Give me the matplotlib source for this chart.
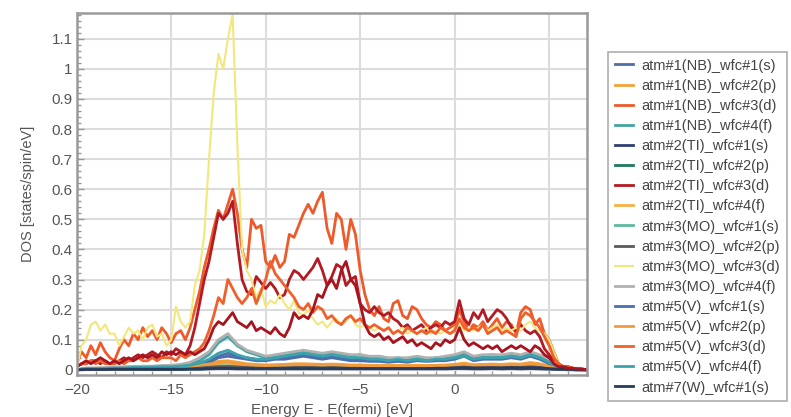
import numpy as np
import matplotlib
matplotlib.use('Agg')
import matplotlib.pyplot as plt
from matplotlib.ticker import MultipleLocator

plt.rcParams['font.family'] = ['Liberation Sans', 'DejaVu Sans']

# energy grids (eV)
energy = np.arange(-20, 7.001, 0.25)
energy_c = np.arange(-20, 7.001, 0.5)

# main d-orbital curves (0.25 eV grid)
mo_d = [0.00, 0.08, 0.10, 0.15, 0.16, 0.13, 0.15, 0.12, 0.12, 0.08, 0.11, 0.14,
        0.12, 0.13, 0.10, 0.14, 0.15, 0.11, 0.12, 0.08, 0.10, 0.21, 0.16, 0.14,
        0.16, 0.28, 0.33, 0.45, 0.70, 0.92, 1.05, 1.00, 1.10, 1.18, 0.75, 0.40,
        0.33, 0.30, 0.24, 0.27, 0.21, 0.23, 0.22, 0.25, 0.22, 0.20, 0.23, 0.19,
        0.18, 0.20, 0.17, 0.15, 0.16, 0.14, 0.16, 0.17, 0.15, 0.16, 0.18, 0.15,
        0.14, 0.15, 0.14, 0.13, 0.14, 0.13, 0.14, 0.12, 0.13, 0.14, 0.12, 0.13,
        0.12, 0.13, 0.14, 0.12, 0.13, 0.12, 0.13, 0.12, 0.14, 0.15, 0.13, 0.14,
        0.13, 0.14, 0.15, 0.13, 0.14, 0.15, 0.13, 0.14, 0.13, 0.14, 0.13, 0.15,
        0.16, 0.14, 0.13, 0.12, 0.10, 0.06, 0.02, 0.01, 0.005, 0.005, 0.003, 0.002, 0.0]

nb_d = [0.02, 0.06, 0.04, 0.08, 0.05, 0.09, 0.06, 0.04, 0.03, 0.07, 0.10, 0.08,
        0.12, 0.10, 0.14, 0.11, 0.13, 0.10, 0.14, 0.12, 0.09, 0.12, 0.13, 0.10,
        0.14, 0.20, 0.26, 0.34, 0.40, 0.47, 0.53, 0.50, 0.55, 0.60, 0.52, 0.40,
        0.34, 0.50, 0.47, 0.48, 0.36, 0.34, 0.38, 0.34, 0.36, 0.45, 0.44, 0.48,
        0.52, 0.55, 0.52, 0.56, 0.59, 0.47, 0.42, 0.52, 0.50, 0.40, 0.50, 0.45,
        0.33, 0.25, 0.20, 0.18, 0.21, 0.17, 0.16, 0.22, 0.23, 0.18, 0.17, 0.21,
        0.20, 0.17, 0.15, 0.14, 0.16, 0.15, 0.13, 0.14, 0.15, 0.20, 0.16, 0.13,
        0.15, 0.14, 0.16, 0.13, 0.15, 0.17, 0.14, 0.16, 0.15, 0.12, 0.19, 0.21,
        0.20, 0.15, 0.17, 0.12, 0.10, 0.06, 0.02, 0.01, 0.01, 0.005, 0.005, 0.003, 0.0]

ti_d = [0.01, 0.02, 0.02, 0.03, 0.03, 0.02, 0.03, 0.02, 0.02, 0.03, 0.04, 0.03,
        0.04, 0.05, 0.04, 0.05, 0.06, 0.05, 0.04, 0.06, 0.05, 0.07, 0.06, 0.05,
        0.08, 0.14, 0.22, 0.30, 0.36, 0.44, 0.52, 0.50, 0.52, 0.56, 0.42, 0.30,
        0.26, 0.25, 0.31, 0.29, 0.27, 0.29, 0.27, 0.24, 0.25, 0.30, 0.33, 0.32,
        0.30, 0.32, 0.34, 0.37, 0.33, 0.28, 0.31, 0.35, 0.34, 0.28, 0.30, 0.31,
        0.22, 0.20, 0.19, 0.21, 0.19, 0.18, 0.19, 0.17, 0.16, 0.14, 0.15, 0.13,
        0.14, 0.15, 0.13, 0.14, 0.15, 0.14, 0.16, 0.15, 0.16, 0.23, 0.17, 0.15,
        0.19, 0.17, 0.20, 0.16, 0.18, 0.20, 0.19, 0.17, 0.14, 0.13, 0.15, 0.13,
        0.12, 0.13, 0.11, 0.07, 0.05, 0.03, 0.02, 0.01, 0.01, 0.005, 0.004, 0.002, 0.0]

w_d = [0.01, 0.02, 0.03, 0.02, 0.03, 0.04, 0.03, 0.02, 0.03, 0.02, 0.03, 0.04,
       0.03, 0.04, 0.05, 0.04, 0.05, 0.04, 0.06, 0.05, 0.06, 0.05, 0.06, 0.05,
       0.06, 0.05, 0.06, 0.07, 0.10, 0.14, 0.16, 0.15, 0.17, 0.19, 0.16, 0.15,
       0.14, 0.16, 0.13, 0.14, 0.13, 0.12, 0.14, 0.12, 0.11, 0.14, 0.19, 0.17,
       0.18, 0.17, 0.20, 0.25, 0.24, 0.28, 0.30, 0.27, 0.33, 0.36, 0.30, 0.28,
       0.22, 0.15, 0.12, 0.11, 0.12, 0.10, 0.11, 0.09, 0.10, 0.11, 0.09, 0.10,
       0.08, 0.09, 0.08, 0.07, 0.09, 0.08, 0.10, 0.09, 0.10, 0.14, 0.10, 0.08,
       0.09, 0.08, 0.07, 0.08, 0.07, 0.08, 0.06, 0.07, 0.08, 0.07, 0.08, 0.07,
       0.06, 0.08, 0.07, 0.05, 0.04, 0.02, 0.01, 0.01, 0.005, 0.005, 0.003, 0.002, 0.0]

v_d = [0.01, 0.02, 0.02, 0.03, 0.02, 0.03, 0.02, 0.02, 0.02, 0.03, 0.02, 0.03,
       0.03, 0.04, 0.03, 0.03, 0.04, 0.03, 0.04, 0.04, 0.04, 0.03, 0.05, 0.04,
       0.05, 0.06, 0.07, 0.09, 0.13, 0.18, 0.24, 0.22, 0.30, 0.27, 0.24, 0.22,
       0.24, 0.27, 0.22, 0.26, 0.30, 0.36, 0.32, 0.30, 0.28, 0.26, 0.24, 0.21,
       0.20, 0.22, 0.19, 0.21, 0.20, 0.17, 0.18, 0.16, 0.15, 0.17, 0.18, 0.16,
       0.17, 0.15, 0.14, 0.15, 0.14, 0.13, 0.14, 0.12, 0.13, 0.12, 0.14, 0.13,
       0.12, 0.13, 0.12, 0.13, 0.12, 0.14, 0.13, 0.12, 0.13, 0.17, 0.14, 0.13,
       0.14, 0.13, 0.15, 0.12, 0.13, 0.14, 0.12, 0.13, 0.12, 0.11, 0.17, 0.19,
       0.18, 0.16, 0.14, 0.11, 0.08, 0.04, 0.02, 0.01, 0.01, 0.005, 0.004, 0.002, 0.0]

# small curves (0.5 eV grid)
nb_f = [0.0, 0.005, 0.005, 0.005, 0.008, 0.008, 0.01, 0.01, 0.01, 0.012, 0.012,
        0.015, 0.02, 0.03, 0.05, 0.09, 0.11, 0.08, 0.06, 0.05, 0.04, 0.045, 0.05,
        0.055, 0.06, 0.055, 0.05, 0.055, 0.05, 0.045, 0.05, 0.04, 0.045, 0.035,
        0.04, 0.035, 0.04, 0.035, 0.04, 0.04, 0.045, 0.055, 0.04, 0.045, 0.05,
        0.045, 0.05, 0.045, 0.055, 0.045, 0.03, 0.01, 0.003, 0.002, 0.0]
mo_f = [0.0, 0.006, 0.006, 0.007, 0.009, 0.01, 0.011, 0.012, 0.012, 0.014, 0.015,
        0.018, 0.025, 0.04, 0.06, 0.10, 0.12, 0.085, 0.065, 0.055, 0.045, 0.05, 0.055,
        0.06, 0.065, 0.06, 0.055, 0.06, 0.055, 0.05, 0.05, 0.045, 0.045, 0.04,
        0.04, 0.04, 0.045, 0.04, 0.04, 0.045, 0.05, 0.06, 0.045, 0.05, 0.05,
        0.05, 0.055, 0.05, 0.06, 0.05, 0.035, 0.012, 0.004, 0.002, 0.0]
v_f = [0.0, 0.004, 0.004, 0.005, 0.006, 0.006, 0.008, 0.008, 0.009, 0.01, 0.01,
       0.012, 0.015, 0.022, 0.035, 0.055, 0.065, 0.05, 0.04, 0.035, 0.035, 0.04, 0.045,
       0.05, 0.055, 0.05, 0.045, 0.05, 0.045, 0.04, 0.04, 0.035, 0.035, 0.03,
       0.035, 0.03, 0.035, 0.03, 0.035, 0.035, 0.04, 0.045, 0.035, 0.04, 0.04,
       0.04, 0.045, 0.04, 0.05, 0.04, 0.025, 0.008, 0.003, 0.001, 0.0]
nb_s = [0.0, 0.003, 0.003, 0.004, 0.005, 0.005, 0.006, 0.006, 0.007, 0.008, 0.008,
        0.01, 0.012, 0.018, 0.03, 0.045, 0.055, 0.045, 0.04, 0.035, 0.035, 0.04, 0.04,
        0.045, 0.05, 0.045, 0.04, 0.045, 0.04, 0.035, 0.035, 0.03, 0.03, 0.03,
        0.03, 0.03, 0.035, 0.03, 0.03, 0.035, 0.04, 0.05, 0.035, 0.04, 0.04,
        0.04, 0.045, 0.04, 0.05, 0.04, 0.025, 0.008, 0.003, 0.001, 0.0]
v_s = [0.0, 0.003, 0.003, 0.003, 0.004, 0.004, 0.005, 0.005, 0.006, 0.006, 0.007,
       0.008, 0.01, 0.015, 0.025, 0.04, 0.045, 0.04, 0.035, 0.03, 0.03, 0.035, 0.035,
       0.04, 0.045, 0.04, 0.035, 0.04, 0.035, 0.03, 0.03, 0.028, 0.028, 0.025,
       0.028, 0.025, 0.03, 0.028, 0.03, 0.03, 0.035, 0.045, 0.03, 0.035, 0.035,
       0.035, 0.04, 0.035, 0.045, 0.035, 0.02, 0.006, 0.002, 0.001, 0.0]
nb_p = [0.0, 0.004, 0.005, 0.005, 0.006, 0.006, 0.007, 0.008, 0.008, 0.009, 0.01,
        0.012, 0.014, 0.018, 0.022, 0.028, 0.03, 0.025, 0.02, 0.018, 0.016, 0.017, 0.018,
        0.02, 0.02, 0.019, 0.018, 0.019, 0.018, 0.016, 0.016, 0.015, 0.015, 0.014,
        0.015, 0.014, 0.015, 0.014, 0.015, 0.016, 0.018, 0.022, 0.017, 0.018, 0.019,
        0.018, 0.02, 0.019, 0.024, 0.02, 0.012, 0.005, 0.002, 0.001, 0.0]
ti_f = [0.0, 0.002, 0.002, 0.003, 0.003, 0.003, 0.004, 0.004, 0.005, 0.005, 0.006,
        0.007, 0.009, 0.012, 0.016, 0.02, 0.022, 0.018, 0.015, 0.013, 0.012, 0.013, 0.014,
        0.015, 0.016, 0.015, 0.014, 0.015, 0.014, 0.013, 0.012, 0.012, 0.011, 0.011,
        0.012, 0.011, 0.012, 0.012, 0.013, 0.013, 0.015, 0.018, 0.014, 0.015, 0.016,
        0.015, 0.017, 0.016, 0.02, 0.016, 0.01, 0.004, 0.002, 0.001, 0.0]
v_p = [0.0, 0.003, 0.003, 0.004, 0.004, 0.005, 0.005, 0.006, 0.006, 0.007, 0.008,
       0.009, 0.011, 0.015, 0.019, 0.024, 0.026, 0.021, 0.017, 0.015, 0.014, 0.015, 0.016,
       0.017, 0.018, 0.017, 0.016, 0.017, 0.016, 0.014, 0.014, 0.013, 0.013, 0.012,
       0.013, 0.012, 0.013, 0.013, 0.014, 0.014, 0.016, 0.02, 0.015, 0.016, 0.017,
       0.016, 0.018, 0.017, 0.022, 0.018, 0.011, 0.004, 0.002, 0.001, 0.0]
ti_p = [0.0, 0.001, 0.001, 0.001, 0.001, 0.001, 0.002, 0.002, 0.002, 0.002, 0.002,
        0.002, 0.003, 0.003, 0.004, 0.005, 0.005, 0.004, 0.004, 0.004, 0.004, 0.004, 0.004,
        0.004, 0.005, 0.005, 0.005, 0.005, 0.005, 0.005, 0.005, 0.005, 0.006, 0.006,
        0.007, 0.008, 0.009, 0.009, 0.01, 0.01, 0.011, 0.012, 0.011, 0.011, 0.012,
        0.011, 0.012, 0.011, 0.012, 0.01, 0.006, 0.002, 0.001, 0.0, 0.0]
mo_s = [0.0, 0.002, 0.002, 0.002, 0.003, 0.003, 0.003, 0.003, 0.004, 0.004, 0.004,
        0.005, 0.006, 0.008, 0.01, 0.012, 0.013, 0.011, 0.009, 0.008, 0.008, 0.008, 0.009,
        0.009, 0.01, 0.009, 0.009, 0.009, 0.009, 0.008, 0.008, 0.008, 0.008, 0.007,
        0.008, 0.007, 0.008, 0.008, 0.008, 0.008, 0.009, 0.011, 0.009, 0.009, 0.01,
        0.009, 0.01, 0.009, 0.011, 0.009, 0.006, 0.002, 0.001, 0.0, 0.0]
mo_p = [0.0, 0.001, 0.001, 0.002, 0.002, 0.002, 0.002, 0.003, 0.003, 0.003, 0.003,
        0.004, 0.005, 0.006, 0.008, 0.01, 0.011, 0.009, 0.008, 0.007, 0.006, 0.007, 0.007,
        0.008, 0.008, 0.008, 0.007, 0.008, 0.007, 0.007, 0.007, 0.006, 0.006, 0.006,
        0.006, 0.006, 0.007, 0.006, 0.007, 0.007, 0.008, 0.009, 0.007, 0.008, 0.008,
        0.008, 0.008, 0.008, 0.009, 0.008, 0.005, 0.002, 0.001, 0.0, 0.0]
ti_s = [0.0, 0.001, 0.001, 0.001, 0.001, 0.001, 0.001, 0.001, 0.001, 0.001, 0.001,
        0.001, 0.002, 0.002, 0.003, 0.004, 0.004, 0.003, 0.003, 0.003, 0.003, 0.003, 0.003,
        0.003, 0.003, 0.003, 0.003, 0.003, 0.003, 0.003, 0.003, 0.003, 0.003, 0.003,
        0.003, 0.003, 0.003, 0.003, 0.003, 0.003, 0.004, 0.004, 0.003, 0.003, 0.004,
        0.003, 0.004, 0.003, 0.004, 0.003, 0.002, 0.001, 0.0, 0.0, 0.0]
w_s = [0.0, 0.001, 0.001, 0.001, 0.002, 0.002, 0.002, 0.002, 0.002, 0.002, 0.002,
       0.002, 0.003, 0.003, 0.004, 0.005, 0.005, 0.004, 0.004, 0.004, 0.004, 0.004, 0.004,
       0.004, 0.004, 0.004, 0.004, 0.004, 0.004, 0.004, 0.004, 0.004, 0.004, 0.004,
       0.004, 0.004, 0.004, 0.004, 0.005, 0.005, 0.006, 0.007, 0.006, 0.006, 0.006,
       0.006, 0.007, 0.006, 0.007, 0.006, 0.004, 0.002, 0.001, 0.0, 0.0]

# legend order
labels = ['atm#1(NB)_wfc#1(s)', 'atm#1(NB)_wfc#2(p)', 'atm#1(NB)_wfc#3(d)', 'atm#1(NB)_wfc#4(f)',
          'atm#2(TI)_wfc#1(s)', 'atm#2(TI)_wfc#2(p)', 'atm#2(TI)_wfc#3(d)', 'atm#2(TI)_wfc#4(f)',
          'atm#3(MO)_wfc#1(s)', 'atm#3(MO)_wfc#2(p)', 'atm#3(MO)_wfc#3(d)', 'atm#3(MO)_wfc#4(f)',
          'atm#5(V)_wfc#1(s)', 'atm#5(V)_wfc#2(p)', 'atm#5(V)_wfc#3(d)', 'atm#5(V)_wfc#4(f)',
          'atm#7(W)_wfc#1(s)']
series = [nb_s, nb_p, nb_d, nb_f, ti_s, ti_p, ti_d, ti_f,
          mo_s, mo_p, mo_d, mo_f, v_s, v_p, v_d, v_f, w_s]
colors = ['#4e6fa8', '#f2a43a', '#ee5a2a', '#45a3a3', '#2f3f72', '#1e7a58', '#b31b24', '#f6b045',
          '#5cb8a0', '#5a5a5a', '#f2e77c', '#b0b0b0', '#4a6fb0', '#f29a3c', '#f0602c', '#3aa3ab',
          '#2a3a5a']

fig = plt.figure(figsize=(7.91, 4.17), dpi=100)
ax = fig.add_axes([0.097, 0.101, 0.645, 0.868])

for lab, vals, col in zip(labels, series, colors):
    x = energy if len(vals) == len(energy) else energy_c
    lw = 1.5 if col == '#f2e77c' else 2.0
    ax.plot(x, vals, color=col, lw=lw, label=lab)
# extra d curve (not shown in the visible legend)
ax.plot(energy, w_d, color='#a8141e', lw=2.0, label='_nolegend_')

ax.set_xlim(-20, 7)
ax.set_ylim(-0.017, 1.186)
ax.xaxis.set_major_locator(MultipleLocator(5))
ax.xaxis.set_minor_locator(MultipleLocator(1))
ax.yaxis.set_minor_locator(MultipleLocator(0.02))
ax.set_yticks(np.arange(0, 1.15, 0.1))
ax.set_yticklabels(['0', '0.1', '0.2', '0.3', '0.4', '0.5', '0.6', '0.7', '0.8', '0.9', '1', '1.1'])
ax.grid(True, which='major', color='#dcdcdc', lw=1.5)
ax.set_axisbelow(True)
ax.tick_params(which='both', direction='in', colors='#999999', labelcolor='#555555', labelsize=11)
ax.tick_params(axis='x', pad=6)
ax.tick_params(axis='y', pad=3)
ax.tick_params(which='major', length=5, width=1)
ax.tick_params(which='minor', length=3, width=1)
for sp in ax.spines.values():
    sp.set_color('#9a9a9a')
    sp.set_linewidth(1.8)

ax.set_xlabel('Energy E - E(fermi) [eV]', color='#555555', fontsize=11, labelpad=4)
ax.set_ylabel('DOS [states/spin/eV]', color='#555555', fontsize=10.5, labelpad=12)

leg = fig.legend(loc='upper left', bbox_to_anchor=(608 / 791, 1 - 52 / 417), fontsize=10.5,
                 frameon=True, fancybox=False, edgecolor='#999999', handlelength=1.25,
                 handletextpad=0.6, labelspacing=0.42, borderpad=0.45, borderaxespad=0)
leg.get_frame().set_linewidth(1.2)
for t in leg.get_texts():
    t.set_color('#444444')

fig.savefig('out.png', dpi=100)
